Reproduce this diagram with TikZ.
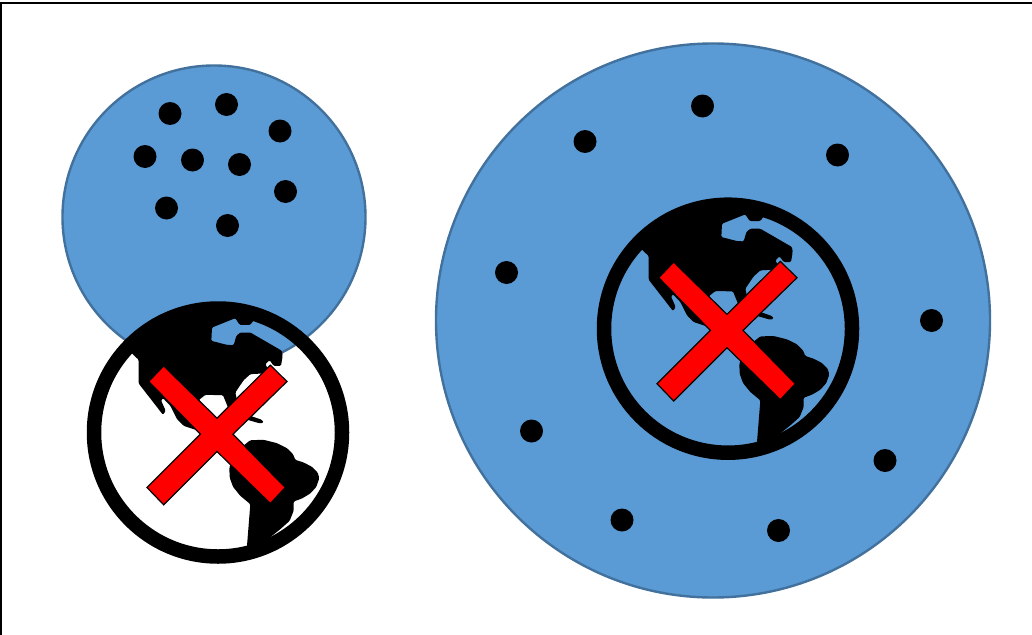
\documentclass[tikz,border=0pt]{standalone}
\usepackage{xcolor}
\usepackage{tikz}
\definecolor{discblue}{HTML}{5B9BD5}
\definecolor{discline}{HTML}{41719C}
\tikzset{
    land/.style={fill=black, rounded corners=1.2pt},
    ring/.style={circle, draw=black, line width=14.5pt, inner sep=0pt, outer sep=0pt, minimum size=248pt},
    person/.style={circle, fill=black, inner sep=0pt, outer sep=0pt, minimum size=23pt},
    globe/.pic={
        \begin{scope}[x=0.3333pt, y=-0.3333pt, shift={(-413,-415)}]
        % north america
        \path[land] (155,178) -- (150,170) -- (190,110) -- (260,65) -- (340,35) -- (430,30) -- (520,50) -- (520,78)
            -- (510,92) -- (478,92) -- (465,72) -- (395,100) -- (393,140) -- (440,152) -- (460,153) -- (468,125)
            -- (480,115) -- (510,115) -- (605,170) -- (607,185) -- (602,215) -- (580,215) -- (568,198) -- (555,210)
            -- (565,228) -- (545,238) -- (510,240) -- (490,258) -- (465,295) -- (470,318) -- (510,365) -- (545,377)
            -- (550,385) -- (540,388) -- (505,378) -- (480,372) -- (440,372) -- (445,345) -- (428,303) -- (375,302)
            -- (355,318) -- (400,372) -- (400,400) -- (360,410) -- (340,405) -- (310,395) -- (290,375) -- (270,335)
            -- (248,312) -- (242,318) -- (256,350) -- (248,362) -- (175,268) -- (175,197) -- cycle;
        % south america
        \path[land] (470,470) -- (510,438) -- (550,437) -- (590,447) -- (620,462) -- (638,480) -- (645,497) -- (670,505)
            -- (695,518) -- (712,535) -- (717,552) -- (708,578) -- (690,598) -- (665,613) -- (640,622) -- (640,650)
            -- (628,680) -- (600,705) -- (550,745) -- (548,765) -- (500,765) -- (500,755) -- (510,630) -- (480,605)
            -- (458,578) -- (448,550) -- (447,520) -- (460,490) -- cycle;
        % cross
        \draw[fill=red, draw=black, line width=1.2pt, line join=miter] (250,215) -- (410,372) -- (570,213) -- (620,262)
            -- (458,420) -- (615,580) -- (570,628) -- (410,472) -- (250,632) -- (200,580) -- (360,420) -- (205,262) -- cycle;
        \end{scope}
        \node[ring] (-outline) at (0,0) {};
    }
}

\begin{document}
\begin{tikzpicture}[x=1pt, y=-1pt,
    disc/.style={circle, draw=discline, fill=discblue, line width=2.4pt, inner sep=0pt, outer sep=0pt}
]
\useasboundingbox (0,0) rectangle (1032,634);
\fill[white] (0,0) rectangle (1032,634);
\draw[black, line width=2.5pt] (1,3) rectangle (1032.8,636);

\node[disc, minimum size=303pt] (small_disc) at (214,217) {};
\node[disc, minimum size=554pt] (large_disc) at (713,320.5) {};

% dense group
\foreach \x/\y [count=\i] in {170/113.5, 226.5/104.5, 280/131, 145/156.5, 192.5/160, 239.5/164.5, 285.5/191.5, 166.5/208, 227.5/225.5}
    \node[person] (near\i) at (\x,\y) {};

% sparse group
\foreach \x/\y [count=\i] in {702.5/106, 585/141.5, 837.5/155, 506.5/272.5, 931.5/320.5, 531.5/431, 885/460.5, 622/520, 778.5/530.5}
    \node[person] (far\i) at (\x,\y) {};

\pic (left_globe) at (218,432.5) {globe};
\pic (right_globe) at (728,328.7) {globe};

\end{tikzpicture}
\end{document}
